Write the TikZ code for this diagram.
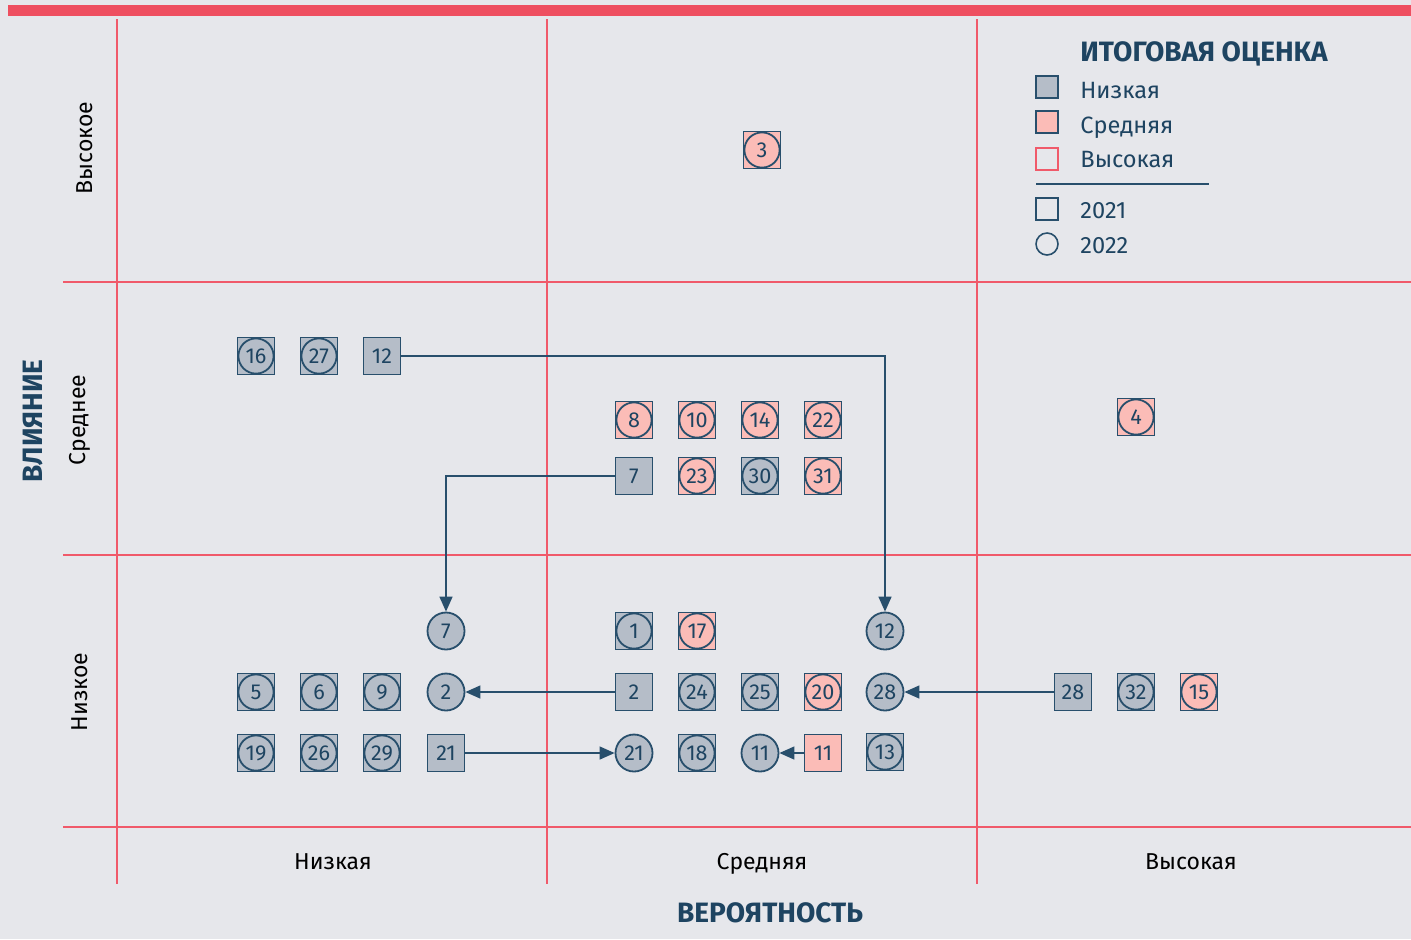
\documentclass[tikz,border=0pt]{standalone}
\usepackage{fontspec}
\setmainfont{Fira Sans}
\usetikzlibrary{arrows.meta}
\definecolor{bg}{HTML}{E6E7EB}
\definecolor{barred}{HTML}{EE4F60}
\definecolor{gridred}{HTML}{F05A6A}
\definecolor{lowfill}{HTML}{B5BDC8}
\definecolor{midfill}{HTML}{FBBCB7}
\definecolor{edge}{HTML}{284F6C}
\definecolor{ink}{HTML}{1E4461}

\begin{document}
\begin{tikzpicture}[
x=0.5pt, y=-0.5pt,
grid/.style={draw=gridred, line width=0.8pt},
box/.style={rectangle, draw=edge, line width=0.9pt, minimum size=18.5pt, inner sep=0pt, text=ink, font=\fontsize{10.8}{12}\selectfont},
ring/.style={box, circle},
both/.style={box, path picture={\draw[edge, line width=0.9pt] (path picture bounding box.center) circle (8.8pt);}},
low/.style={fill=lowfill},
mid/.style={fill=midfill},
move/.style={draw=edge, line width=0.7pt, -{Triangle[length=7.5pt, width=6.5pt]}},
axis/.style={text=black, font=\fontsize{11.5}{14}\selectfont},
heading/.style={text=ink, font=\bfseries\fontsize{14}{17}\selectfont},
keybox/.style={rectangle, draw=edge, line width=0.8pt, minimum size=11pt, inner sep=0pt},
key/.style={text=ink, anchor=base west, inner sep=0pt, font=\fontsize{11.8}{14}\selectfont},
]
\useasboundingbox (0,0) rectangle (1411,939);
\fill[bg] (0,0) rectangle (1411,939);
\fill[barred] (8,5) rectangle (1411,16);

% grid
\draw[grid] (117,19) -- (117,884);
\draw[grid] (547,19) -- (547,884);
\draw[grid] (977,19) -- (977,884);
\draw[grid] (63,282) -- (1411,282);
\draw[grid] (63,555) -- (1411,555);
\draw[grid] (63,827) -- (1411,827);

% axes
\node[axis, rotate=90] (rowhigh) at (85,148) {Высокое};
\node[axis, rotate=90] (rowmid) at (80,420) {Среднее};
\node[axis, rotate=90] (rowlow) at (80,692) {Низкое};
\node[heading, rotate=90] (impact) at (33,421) {ВЛИЯНИЕ};
\node[axis, anchor=base] (collow) at (333,869) {Низкая};
\node[axis, anchor=base] (colmid) at (762,869) {Средняя};
\node[axis, anchor=base] (colhigh) at (1191,869) {Высокая};
\node[heading] (chance) at (770,913) {ВЕРОЯТНОСТЬ};

% high impact
\node[both, mid] (n3) at (762,150) {3};

% medium impact
\node[both, low] (n16) at (256,356) {16};
\node[both, low] (n27) at (319,356) {27};
\node[box, low] (s12) at (382,356) {12};
\node[both, mid] (n8) at (634,420) {8};
\node[both, mid] (n10) at (697,420) {10};
\node[both, mid] (n14) at (760,420) {14};
\node[both, mid] (n22) at (823,420) {22};
\node[box, low] (s7) at (634,476) {7};
\node[both, mid] (n23) at (697,476) {23};
\node[both, low] (n30) at (760,476) {30};
\node[both, mid] (n31) at (823,476) {31};
\node[both, mid] (n4) at (1136,417) {4};

% low impact
\node[ring, low] (c7) at (446,631) {7};
\node[both, low] (n1) at (634,631) {1};
\node[both, mid] (n17) at (697,631) {17};
\node[ring, low] (c12) at (885,631) {12};
\node[both, low] (n5) at (256,692) {5};
\node[both, low] (n6) at (319,692) {6};
\node[both, low] (n9) at (382,692) {9};
\node[ring, low] (c2) at (446,692) {2};
\node[box, low] (s2) at (634,692) {2};
\node[both, low] (n24) at (697,692) {24};
\node[both, low] (n25) at (760,692) {25};
\node[both, mid] (n20) at (823,692) {20};
\node[ring, low] (c28) at (885,692) {28};
\node[box, low] (s28) at (1073,692) {28};
\node[both, low] (n32) at (1136,692) {32};
\node[both, mid] (n15) at (1199,692) {15};
\node[both, low] (n19) at (256,753) {19};
\node[both, low] (n26) at (319,753) {26};
\node[both, low] (n29) at (382,753) {29};
\node[box, low] (s21) at (446,753) {21};
\node[ring, low] (c21) at (634,753) {21};
\node[both, low] (n18) at (697,753) {18};
\node[ring, low] (c11) at (760,753) {11};
\node[box, mid] (s11) at (823,753) {11};
\node[both, low] (n13) at (885,752) {13};

% moves 2021 -> 2022
\draw[move] (s12) -| (c12);
\draw[move] (s7) -| (c7);
\draw[move] (s2) -- (c2);
\draw[move] (s21) -- (c21);
\draw[move] (s28) -- (c28);
\draw[move] (s11) -- (c11);

% legend
\node[heading, anchor=west, inner sep=0pt] (keytitle) at (1080,54) {ИТОГОВАЯ ОЦЕНКА};
\node[keybox, low] (klow) at (1047,87) {};
\node[key] (tlow) at (1080,98) {Низкая};
\node[keybox, mid] (kmid) at (1047,122) {};
\node[key] (tmid) at (1080,133) {Средняя};
\node[keybox, draw=gridred] (khigh) at (1047,159) {};
\node[key] (thigh) at (1080,167) {Высокая};
\coordinate (rulea) at (1036,184);
\coordinate (ruleb) at (1209,184);
\draw[edge, line width=0.8pt] (rulea) -- (ruleb);
\node[keybox] (k21) at (1047,209) {};
\node[key] (t21) at (1080,218) {2021};
\node[keybox, circle] (k22) at (1047,244) {};
\node[key] (t22) at (1080,253) {2022};
\end{tikzpicture}
\end{document}
